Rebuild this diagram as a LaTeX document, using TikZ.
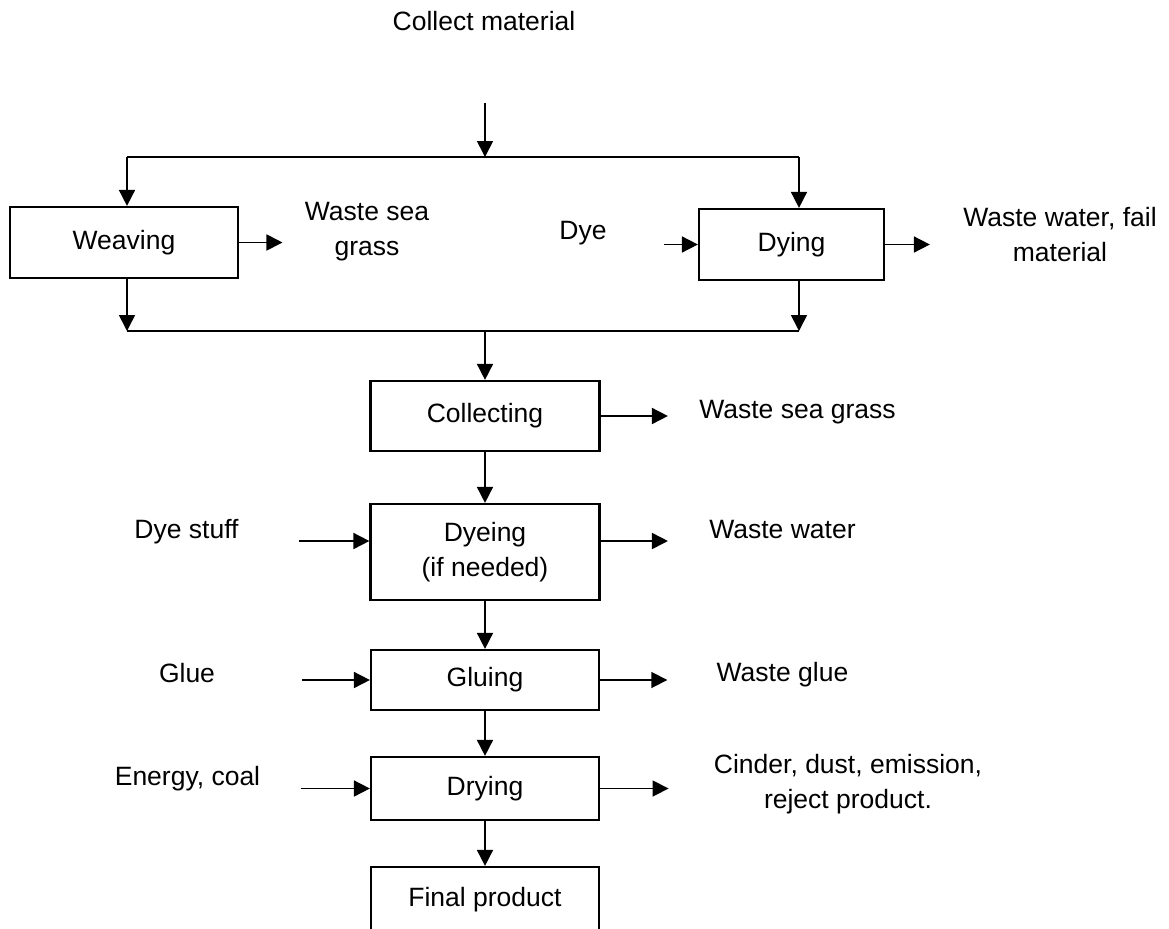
\documentclass[tikz,border=0pt]{standalone}
\usepackage{fontspec}
\setmainfont{Liberation Sans}
\usetikzlibrary{arrows.meta}

\begin{document}
\begin{tikzpicture}[x=0.5pt,y=-0.5pt,
  every node/.style={font=\fontsize{13.25}{17.5}\selectfont},
  stage/.style={draw,line width=1.1pt,inner sep=0pt,align=center},
  label/.style={inner sep=0pt,align=center},
  flow/.style={line width=0.85pt,-{Triangle[length=8pt,width=8pt]}},
  bus/.style={line width=1pt}]
\useasboundingbox (0,0) rectangle (1169,928);

\node[label] (collect) at (484,21) {Collect material};
\coordinate (src) at (485,103);
\coordinate (tj) at (485,157);
\coordinate (tl) at (127,157);
\coordinate (tr) at (799,157);
\coordinate (bl) at (127,331);
\coordinate (br) at (799,331);
\coordinate (bj) at (485,331);

\node[stage,minimum width=114pt,minimum height=35.5pt] (weaving) at (124,242.5) {Weaving};
\node[stage,minimum width=92.5pt,minimum height=35.5pt] (dying) at (791.5,244.5) {Dying};
\node[label] (wsg1) at (367,232) {Waste sea\\grass};
\node[label] (dye) at (583,233) {Dye};
\node[label] (wwf) at (1060,235) {Waste water, fail\\material};

\node[stage,minimum width=114.5pt,minimum height=35pt] (collecting) at (485,416) {Collecting};
\node[stage,minimum width=114.5pt,minimum height=48pt] (dyeing) at (485,552) {Dyeing\\(if needed)};
\node[stage,minimum width=114pt,minimum height=30pt] (gluing) at (485,680) {Gluing};
\node[stage,minimum width=114pt,minimum height=31.5pt] (drying) at (485,788.5) {Drying};
\node[stage,minimum width=114pt,minimum height=33pt] (final) at (485,900) {Final product};

\node[label] (wsg2) at (797.5,412) {Waste sea grass};
\node[label] (ww) at (782.5,530) {Waste water};
\node[label] (wglue) at (782.5,675) {Waste glue};
\node[label] (cinder) at (848,784) {Cinder, dust, emission,\\reject product.};
\node[label] (dyestuff) at (186.5,532) {Dye stuff};
\node[label] (glue) at (187,673) {Glue};
\node[label] (energy) at (187.5,779) {Energy, coal};

\draw[flow] (src) -- (tj);
\draw[bus] (tl) -- (tr);
\draw[flow] (tl) -- (tl |- weaving.north);
\draw[flow] (tr) -- (tr |- dying.north);
\draw[flow,shorten >=11pt] (weaving.east) -- (weaving.east -| wsg1.west);
\draw[flow,shorten <=28.5pt] (dye.east |- dying.west) -- (dying.west);
\draw[flow,shorten >=16.5pt] (dying.east) -- (dying.east -| wwf.west);
\draw[flow] (bl |- weaving.south) -- (bl);
\draw[flow] (br |- dying.south) -- (br);
\draw[bus] (bl) -- (br);
\draw[flow] (bj) -- (collecting);

\draw[flow] (collecting) -- (dyeing);
\draw[flow] (dyeing) -- (gluing);
\draw[flow] (gluing) -- (drying);
\draw[flow] (drying) -- (final);

\draw[flow,shorten >=15.5pt] (collecting.east) -- (collecting.east -| wsg2.west);
\draw[flow,shorten >=20.5pt] ([yshift=5.5pt]dyeing.east) -- ([yshift=5.5pt]dyeing.east -| ww.west);
\draw[flow,shorten >=24.5pt] (gluing.east) -- (gluing.east -| wglue.west);
\draw[flow,shorten >=22.5pt] (drying.east) -- (drying.east -| cinder.west);
\draw[flow,shorten <=30pt] ([yshift=5.5pt]dyeing.west -| dyestuff.east) -- ([yshift=5.5pt]dyeing.west);
\draw[flow,shorten <=43.5pt] (glue.east |- gluing.west) -- (gluing.west);
\draw[flow,shorten <=20pt] (energy.east |- drying.west) -- (drying.west);
\end{tikzpicture}
\end{document}
